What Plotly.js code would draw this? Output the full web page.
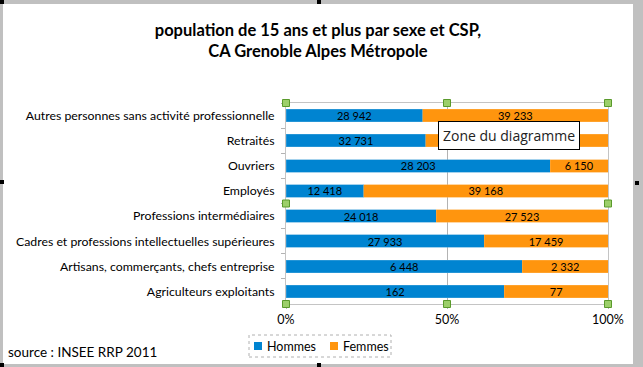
<!DOCTYPE html>
<html><head><meta charset="utf-8">
<script src="https://cdn.plot.ly/plotly-3.0.1.min.js"></script>
<style>
html,body{margin:0;padding:0;background:#c0c0c0;width:643px;height:367px;overflow:hidden;position:relative;}
#chart{position:absolute;left:3px;top:4px;width:630px;height:360px;background:#fff;}
.mk{position:absolute;background:#000;width:4px;height:4px;}
</style></head><body>
<div id="chart"></div>
<div class="mk" style="left:0;top:0;"></div>
<div class="mk" style="left:317px;top:0;"></div>
<div class="mk" style="left:0;top:180px;"></div>
<div class="mk" style="left:635px;top:181px;"></div>
<div class="mk" style="left:0;top:363px;"></div>
<div class="mk" style="left:317px;top:363px;"></div>
<script>
const categories = [
  "Autres personnes sans activité professionnelle",
  "Retraités",
  "Ouvriers",
  "Employés",
  "Professions intermédiaires",
  "Cadres et professions intellectuelles supérieures",
  "Artisans, commerçants, chefs entreprise",
  "Agriculteurs exploitants"
];
const hommes = [28942, 32731, 28203, 12418, 24018, 27933, 6448, 162];
const femmes = [39233, 42600, 6150, 39168, 27523, 17459, 2332, 77];
const seriesNames = ["Hommes", "Femmes"];
const seriesColors = ["#0084d1", "#ff950e"];
const xTickVals = [0, 50, 100];
const xTickText = ["0%", "50%", "100%"];

function fmt(v){ return String(v).replace(/\B(?=(\d{3})+(?!\d))/g, "\u00a0"); }
const FONT = "Lato, 'Open Sans', sans-serif";

const traces = [hommes, femmes].map((vals, i) => ({
  type:'bar', orientation:'h', name:seriesNames[i], y:categories, x:vals,
  marker:{color:seriesColors[i], line:{color:i ? '#ffb04a' : '#4aa6dc', width:0.5}},
  text:vals.map(fmt), textposition:'inside', insidetextanchor:'middle', textangle:0,
  textfont:{family:FONT, size:11, color:'#000'}, constraintext:'none', hoverinfo:'skip',
  showlegend:false
}));

// plot area in div pixels: x 283..605, y 99..300
const PL = 283, PR = 605, PT = 99, PB = 300;
const px = x => (x - PL) / (PR - PL);
const py = y => (PB - y) / (PB - PT);

const handles = [[0,1],[0.5,1],[1,1],[0,0.5],[1,0.5],[0,0],[0.5,0],[1,0]];
const shapes = handles.map(h => ({
  type:'rect', layer:'above',
  xref:'x domain', yref:'y domain',
  xsizemode:'pixel', ysizemode:'pixel',
  xanchor:h[0], yanchor:h[1], x0:-3.5, x1:3.5, y0:-3.5, y1:3.5,
  fillcolor:'#9ccf6a', line:{color:'#5a9a2c', width:1}
}));
// legend box (dotted) and swatches
shapes.push({type:'rect', xref:'paper', yref:'paper',
  x0:px(246), x1:px(388), y0:py(353), y1:py(331),
  line:{color:'#b0b0b0', width:1, dash:'dot'}, fillcolor:'rgba(0,0,0,0)'});
const legendX = [251, 327];
seriesNames.forEach((n, i) => {
  shapes.push({type:'rect', xref:'paper', yref:'paper',
    x0:px(legendX[i]), x1:px(legendX[i] + 8), y0:py(346), y1:py(338),
    fillcolor:seriesColors[i], line:{width:0}});
});

const annotations = [
  {text:'source : INSEE RRP 2011', xref:'paper', yref:'paper',
   x:px(3), y:py(348), xanchor:'left', yanchor:'middle', showarrow:false,
   font:{family:FONT, size:13.5, color:'#000'}},
  {text:'Zone du diagramme', xref:'paper', yref:'paper',
   x:px(506), y:py(131.5), xanchor:'center', yanchor:'middle', showarrow:false,
   bgcolor:'#fff', bordercolor:'#000', borderwidth:1, borderpad:4,
   font:{family:"'Open Sans', sans-serif", size:14, color:'#222'}}
];
seriesNames.forEach((n, i) => {
  annotations.push({text:n, xref:'paper', yref:'paper',
    x:px(legendX[i] + 11), y:py(342), xanchor:'left', yanchor:'middle', showarrow:false,
    font:{family:FONT, size:12.5, color:'#000'}});
});

const layout = {
  width:630, height:360,
  margin:{l:PL, r:630-PR, t:PT, b:360-PB},
  paper_bgcolor:'#ffffff', plot_bgcolor:'#ffffff',
  barmode:'stack', barnorm:'percent', bargap:0.5,
  font:{family:FONT, size:12, color:'#000'},
  title:{text:'<b>population de 15 ans et plus par sexe et CSP,<br>CA Grenoble Alpes Métropole</b>',
         font:{family:FONT, size:16.5, color:'#000'},
         x:0.5, xref:'container', xanchor:'center',
         y:1-32/360, yref:'container', yanchor:'middle'},
  xaxis:{range:[0,100], tickvals:xTickVals, ticktext:xTickText,
         showgrid:true, gridcolor:'#b3b3b3', gridwidth:1,
         showline:true, linecolor:'#c4c4c4', mirror:true,
         ticks:'outside', ticklen:4, tickcolor:'#b3b3b3',
         tickfont:{family:FONT, size:12.5, color:'#000'}, zeroline:false, fixedrange:true},
  yaxis:{autorange:'reversed', type:'category',
         showline:true, linecolor:'#c4c4c4', mirror:true,
         ticks:'outside', ticklen:4, tickcolor:'#b3b3b3', tickson:'boundaries',
         tickfont:{family:FONT, size:12.3, color:'#000'}, ticklabelstandoff:8, fixedrange:true},
  showlegend:false,
  shapes:shapes,
  annotations:annotations
};

Plotly.newPlot('chart', traces, layout, {staticPlot:true, displayModeBar:false});
</script>
</body></html>
